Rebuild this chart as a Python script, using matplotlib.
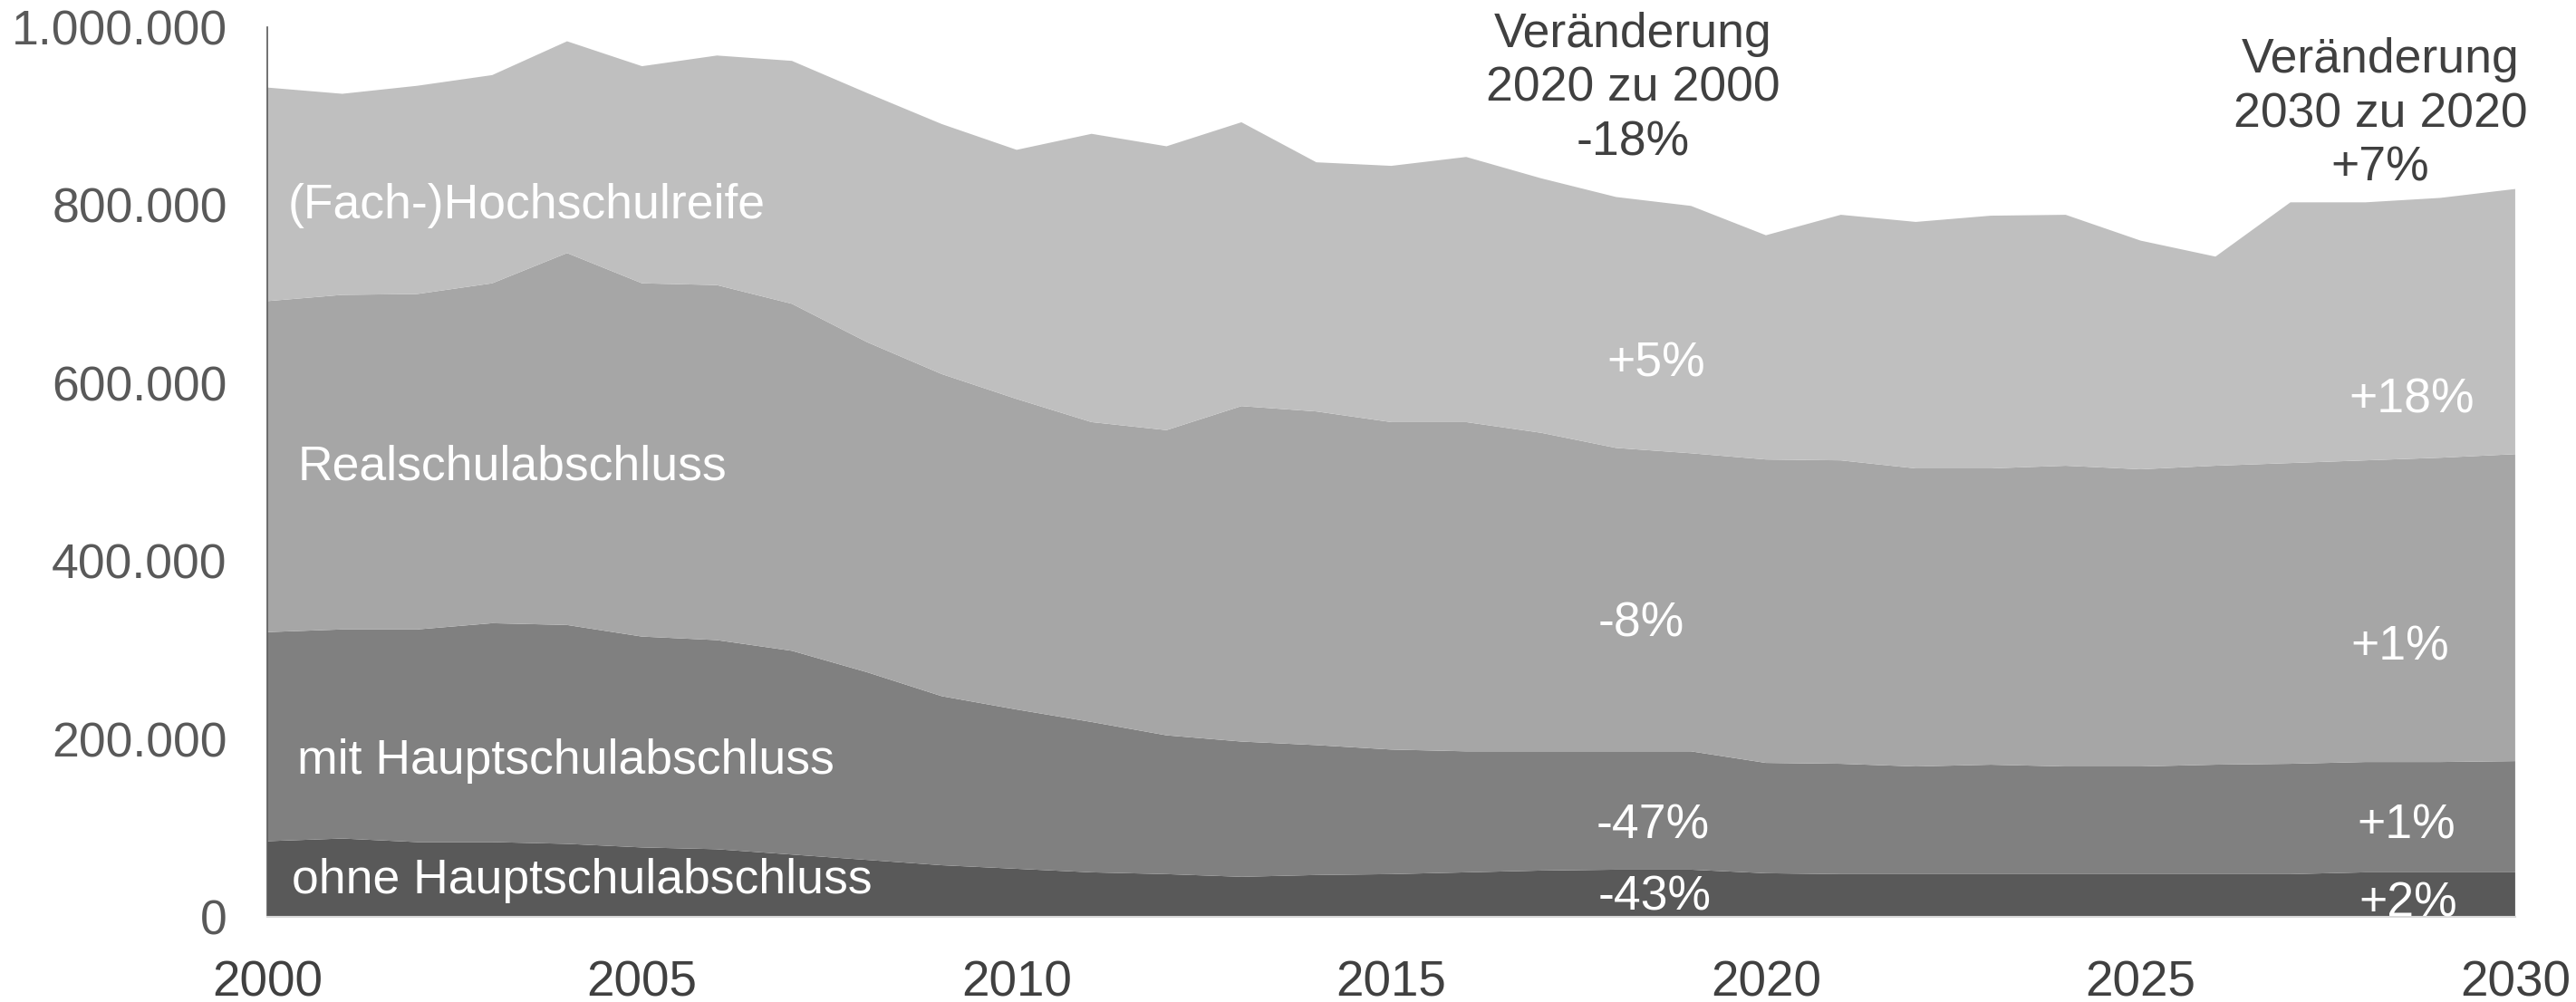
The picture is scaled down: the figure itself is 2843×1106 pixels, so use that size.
import matplotlib
matplotlib.use("Agg")
import matplotlib.pyplot as plt
from matplotlib.ticker import FuncFormatter
import numpy as np

plt.rcParams['font.family'] = ['Liberation Sans', 'DejaVu Sans']

years = list(range(2000, 2031))

# Schulabgänger nach Abschluss, in Tausend
ohne_haupt = [85, 88, 84, 84, 82, 78, 76, 70, 64, 58, 54, 50, 48, 45, 47, 48,
              50, 52, 53, 53, 49, 48, 48, 48, 48, 48, 48, 48, 50, 50, 50]
mit_haupt = [235, 235, 239, 246, 246, 237, 235, 229, 211, 190, 179, 169, 156, 152, 146, 140,
             136, 134, 133, 133, 124, 124, 121, 123, 121, 121, 123, 124, 124, 124, 125]
realschule = [372, 376, 377, 382, 418, 397, 399, 390, 371, 362, 349, 337, 343, 377, 375, 368,
              370, 358, 341, 335, 341, 341, 335, 333, 338, 334, 336, 338, 339, 342, 345]
hochschulreife = [240, 226, 234, 234, 238, 244, 258, 273, 280, 281, 280, 324, 319, 319, 280, 288,
                  298, 286, 282, 278, 252, 276, 277, 284, 282, 257, 235, 293, 290, 292, 298]

layer_names = ["ohne Hauptschulabschluss", "mit Hauptschulabschluss",
               "Realschulabschluss", "(Fach-)Hochschulreife"]
layer_colors = ["#595959", "#808080", "#a6a6a6", "#bfbfbf"]

change_2000_2020 = ["-43%", "-47%", "-8%", "+5%"]
change_2020_2030 = ["+2%", "+1%", "+1%", "+18%"]

layers = np.array([ohne_haupt, mit_haupt, realschule, hochschulreife]) * 1000

fig = plt.figure(figsize=(28.43, 11.06), dpi=100)
ax = fig.add_axes([0.1038, 0.085, 0.8726, 0.888])

ax.stackplot(years, layers, colors=layer_colors, linewidth=0)

ax.set_xlim(2000, 2030)
ax.set_ylim(0, 1000000)
ax.set_xticks(range(2000, 2031, 5))
ax.set_yticks(range(0, 1000001, 200000))
ax.yaxis.set_major_formatter(FuncFormatter(lambda v, p: f"{v:,.0f}".replace(",", ".")))
ax.tick_params(axis='y', length=0, pad=32, labelsize=38.5, labelcolor="#595959")
ax.tick_params(axis='x', length=0, pad=34, labelsize=39.5, labelcolor="#404040")

for side in ["top", "right"]:
    ax.spines[side].set_visible(False)
ax.spines["left"].set_color("#595959")
ax.spines["left"].set_linewidth(1.2)
ax.spines["bottom"].set_color("#d9d9d9")
ax.spines["bottom"].set_linewidth(1.5)

# Beschriftung der Schichten
label_pos = [(2000.33, 41000), (2000.4, 175000), (2000.4, 506000), (2000.27, 799000)]
for name, (x, y) in zip(layer_names, label_pos):
    ax.text(x, y, name, color="white", fontsize=38.5, ha="left", va="center")

# Veränderungen je Schicht
pct_left = [(2018.51, 22000), (2018.49, 102000), (2018.33, 329000), (2018.53, 622000)]
pct_right = [(2028.57, 15000), (2028.55, 102000), (2028.46, 303000), (2028.62, 581000)]
for lbl, (x, y) in zip(change_2000_2020, pct_left):
    ax.text(x, y, lbl, color="white", fontsize=38.5, ha="center", va="center", clip_on=True)
for lbl, (x, y) in zip(change_2020_2030, pct_right):
    ax.text(x, y, lbl, color="white", fontsize=38.5, ha="center", va="center", clip_on=True)

total = layers.sum(axis=0)
ch_total_1 = total[years.index(2020)] / total[years.index(2000)] - 1
ch_total_2 = total[years.index(2030)] / total[years.index(2020)] - 1
ax.text(2018.23, 931000, f"Veränderung\n2020 zu 2000\n{ch_total_1:+.0%}".replace("+-", "-"),
        color="#404040", fontsize=38.5, ha="center", va="center", linespacing=1.25, clip_on=False)
ax.text(2028.2, 902000, f"Veränderung\n2030 zu 2020\n{ch_total_2:+.0%}",
        color="#404040", fontsize=38.5, ha="center", va="center", linespacing=1.25, clip_on=False)

fig.savefig("out.png", dpi=100, facecolor="white")
